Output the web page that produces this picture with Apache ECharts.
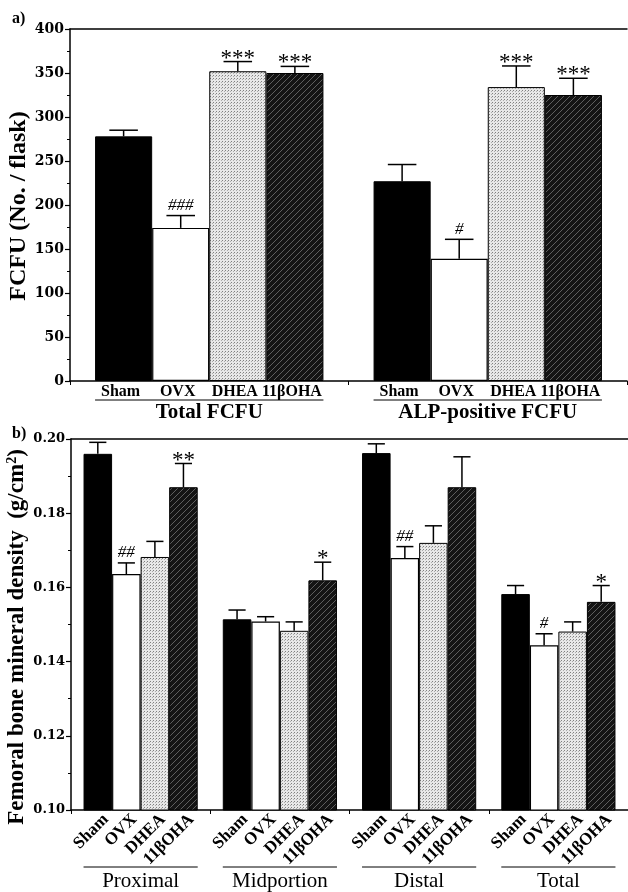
<!DOCTYPE html>
<html>
<head>
<meta charset="utf-8">
<script src="https://cdn.jsdelivr.net/npm/echarts@6/dist/echarts.min.js"></script>
<style>
html, body { margin: 0; background: #fff; }
#chart { width: 628px; height: 892px; }
</style>
</head>
<body>
<div id="chart"></div>
<script>
var treatments = ['Sham', 'OVX', 'DHEA', '11βOHA'];

// a) FCFU per flask
var fcfuGroups = ['Total FCFU', 'ALP-positive FCFU'];
var fcfuSham = [278, 227];
var fcfuOVX = [174, 139];
var fcfuDHEA = [352, 334];
var fcfuOHA = [350, 325];
var fcfuShamSem = [7, 19];
var fcfuOVXSem = [14, 22];
var fcfuDHEASem = [11, 24];
var fcfuOHASem = [7.5, 19];
var fcfuMarks = [['', ''], ['###', '#'], ['***', '***'], ['***', '***']];
var fcfuTicks = [0, 400, 50];
var fcfuTitle = 'FCFU (No. / flask)';

// b) femoral bone mineral density
var bmdGroups = ['Proximal', 'Midportion', 'Distal', 'Total'];
var bmdSham = [0.196, 0.1514, 0.1962, 0.1582];
var bmdOVX = [0.1636, 0.1508, 0.1679, 0.1444];
var bmdDHEA = [0.1682, 0.1483, 0.172, 0.1481];
var bmdOHA = [0.187, 0.1619, 0.187, 0.1561];
var bmdShamSem = [0.0031, 0.0025, 0.0025, 0.0023];
var bmdOVXSem = [0.003, 0.0013, 0.0031, 0.0031];
var bmdDHEASem = [0.0042, 0.0024, 0.0046, 0.0026];
var bmdOHASem = [0.0064, 0.0049, 0.0082, 0.0044];
var bmdMarks = [['', '', '', ''], ['##', '', '##', '#'], ['', '', '', ''], ['**', '*', '', '*']];
var bmdTicks = [0.10, 0.20, 0.02];
var bmdTitle = 'Femoral bone mineral density  (g/cm{sup|2})';

var GAP = 0.18; // barCategoryGap
var serif = '"Liberation Serif", "Times New Roman", serif';

function makePattern(kind) {
    var c = document.createElement('canvas');
    var ctx = c.getContext('2d');
    if (kind == 'dots') {
        c.width = 3; c.height = 3;
        ctx.fillStyle = '#e8e8e8';
        ctx.fillRect(0, 0, 3, 3);
        ctx.fillStyle = '#808080';
        ctx.fillRect(0, 0, 1, 1);
        ctx.fillStyle = '#acacac';
        ctx.fillRect(2, 1, 1, 1);
    } else {
        c.width = 6; c.height = 6;
        ctx.fillStyle = '#141414';
        ctx.fillRect(0, 0, 6, 6);
        ctx.fillStyle = '#5e5e5e';
        for (var i = 0; i < 6; i++) ctx.fillRect(i, 5 - i, 1, 1);
    }
    return { image: c, repeat: 'repeat' };
}

var fills = [
    { color: '#000', borderColor: '#000', borderWidth: 1 },
    { color: '#fff', borderColor: '#000', borderWidth: 1.2 },
    { color: makePattern('dots'), borderColor: '#000', borderWidth: 1 },
    { color: makePattern('hatch'), borderColor: '#000', borderWidth: 1 }
];

function barSeries(idx, means) {
    return means.map(function (arr, s) {
        return {
            type: 'bar', name: treatments[s],
            xAxisIndex: idx * 2, yAxisIndex: idx,
            barGap: '0%', barCategoryGap: (GAP * 100) + '%',
            itemStyle: fills[s],
            data: arr
        };
    });
}

function errorSeries(idx, means, sems, marks, capRatio) {
    var rows = [], labels = [];
    means.forEach(function (arr, s) {
        arr.forEach(function (v, g) {
            rows.push([g, v, v + sems[s][g], s]);
            labels.push(marks[s][g]);
        });
    });
    return {
        type: 'custom', xAxisIndex: idx * 2, yAxisIndex: idx, z: 5, silent: true,
        data: rows,
        renderItem: function (params, api) {
            var g = api.value(0), s = api.value(3);
            var bw = api.size([1, 0])[0] * (1 - GAP) / 4;
            var base = api.coord([g, api.value(1)]);
            var top = api.coord([g, api.value(2)]);
            var x = base[0] + (s - 1.5) * bw;
            var half = bw * capRatio / 2;
            var mark = labels[params.dataIndex];
            var kids = [
                { type: 'line', shape: { x1: x, y1: base[1], x2: x, y2: top[1] }, style: { stroke: '#000', lineWidth: 1.5 } },
                { type: 'line', shape: { x1: x - half, y1: top[1], x2: x + half, y2: top[1] }, style: { stroke: '#000', lineWidth: 1.5 } }
            ];
            if (mark) {
                var star = mark.charAt(0) == '*';
                kids.push({
                    type: 'text', x: x, y: top[1] - (star ? 3 : 10),
                    style: {
                        text: mark, fill: '#000', align: 'center', verticalAlign: 'middle',
                        font: star ? '23px ' + serif : 'italic 17px ' + serif
                    }
                });
            }
            return { type: 'group', children: kids };
        }
    };
}

function labelSeries(idx, groups, yMin, rotate) {
    return {
        type: 'custom', xAxisIndex: idx * 2, yAxisIndex: idx, silent: true,
        data: groups.map(function (g, i) { return [i, yMin]; }),
        renderItem: function (params, api) {
            var i = api.value(0);
            var bw = api.size([1, 0])[0] * (1 - GAP) / 4;
            var p = api.coord([i, yMin]);
            var kids = [];
            treatments.forEach(function (t, s) {
                var cx = p[0] + (s - 1.5) * bw;
                if (rotate) {
                    kids.push({
                        type: 'text', x: cx + 8, y: p[1] + 7, rotation: Math.PI / 4,
                        style: { text: t, fill: '#000', align: 'right', verticalAlign: 'middle', font: 'bold 17px ' + serif }
                    });
                } else {
                    kids.push({
                        type: 'text', x: cx - 3, y: p[1] + 11,
                        style: { text: t, fill: '#000', align: 'center', verticalAlign: 'middle', font: 'bold 16px ' + serif }
                    });
                }
            });
            var ly = p[1] + (rotate ? 57 : 19);
            kids.push({
                type: 'line', shape: { x1: p[0] - 2 * bw, y1: ly, x2: p[0] + 2 * bw, y2: ly },
                style: { stroke: '#000', lineWidth: 1 }
            });
            kids.push({
                type: 'text', x: p[0], y: p[1] + (rotate ? 71 : 32),
                style: {
                    text: groups[i], fill: '#000', align: 'center', verticalAlign: 'middle',
                    font: (rotate ? '' : 'bold ') + '21px ' + serif
                }
            });
            return { type: 'group', children: kids };
        }
    };
}

var axisLine = { show: true, lineStyle: { color: '#000', width: 1.5 } };

function yAxis(idx, ticks, fontSize, fmt) {
    return {
        type: 'value', gridIndex: idx,
        min: ticks[0], max: ticks[1], interval: ticks[2],
        axisLine: axisLine,
        axisTick: { show: true, length: 5, lineStyle: { color: '#000', width: 1.2 } },
        minorTick: { show: true, splitNumber: 2, length: 3, lineStyle: { color: '#000', width: 1 } },
        splitLine: { show: false },
        axisLabel: {
            color: '#000', margin: 6, formatter: fmt,
            fontFamily: '"DejaVu Serif", serif', fontWeight: 'bold', fontSize: fontSize
        }
    };
}

function xAxes(idx, groups) {
    return [
        {
            type: 'category', gridIndex: idx, data: groups, position: 'bottom',
            axisLine: axisLine,
            axisTick: { show: true, length: 4, lineStyle: { color: '#000' } },
            axisLabel: { show: false }
        },
        {
            type: 'category', gridIndex: idx, data: groups, position: 'top',
            axisLine: axisLine, axisTick: { show: false }, axisLabel: { show: false }
        }
    ];
}

function axisTitle(text, x, y, size) {
    return {
        type: 'text', x: x, y: y, rotation: Math.PI / 2,
        style: {
            text: text, fill: '#000', align: 'center', verticalAlign: 'middle',
            font: 'bold ' + size + 'px ' + serif,
            rich: { sup: { fontFamily: serif, fontWeight: 'bold', fontSize: 14, verticalAlign: 'top', fill: '#000' } }
        }
    };
}

var fcfuMean = [fcfuSham, fcfuOVX, fcfuDHEA, fcfuOHA];
var fcfuSem = [fcfuShamSem, fcfuOVXSem, fcfuDHEASem, fcfuOHASem];
var bmdMean = [bmdSham, bmdOVX, bmdDHEA, bmdOHA];
var bmdSem = [bmdShamSem, bmdOVXSem, bmdDHEASem, bmdOHASem];

var chart = echarts.init(document.getElementById('chart'), null, { renderer: 'canvas' });

var option = {
    backgroundColor: '#fff',
    animation: false,
    title: [
        { text: 'a)', left: 7, top: 6, textStyle: { fontFamily: serif, fontWeight: 'bold', fontSize: 16, color: '#000' } },
        { text: 'b)', left: 7, top: 421, textStyle: { fontFamily: serif, fontWeight: 'bold', fontSize: 16, color: '#000' } }
    ],
    graphic: [
        axisTitle(fcfuTitle, 19, 206, 24),
        axisTitle(bmdTitle, 17, 637, 23)
    ],
    grid: [
        { left: 70, top: 29, width: 557, height: 352, outerBoundsMode: 'none' },
        { left: 71, top: 439, width: 557, height: 371, outerBoundsMode: 'none' }
    ],
    xAxis: xAxes(0, fcfuGroups).concat(xAxes(1, bmdGroups)),
    yAxis: [
        yAxis(0, fcfuTicks, 14, function (v) { return v; }),
        yAxis(1, bmdTicks, 13, function (v) { return v.toFixed(2); })
    ],
    series: [].concat(
        barSeries(0, fcfuMean),
        [errorSeries(0, fcfuMean, fcfuSem, fcfuMarks, 0.5), labelSeries(0, fcfuGroups, 0, false)],
        barSeries(1, bmdMean),
        [errorSeries(1, bmdMean, bmdSem, bmdMarks, 0.6), labelSeries(1, bmdGroups, 0.10, true)]
    )
};

chart.setOption(option);
</script>
</body>
</html>
